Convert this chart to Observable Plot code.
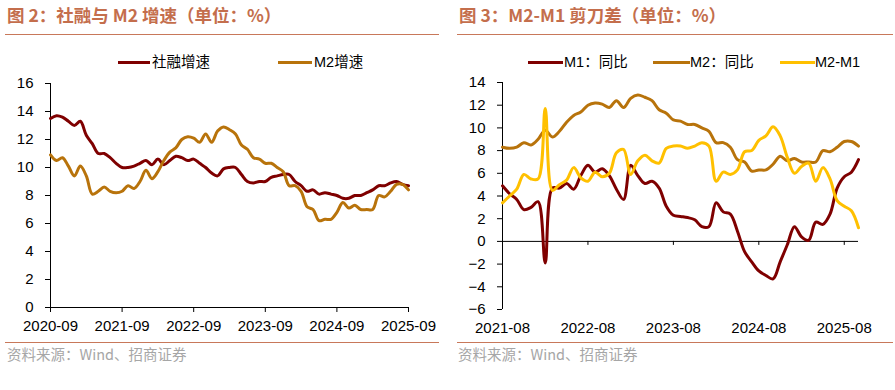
<!DOCTYPE html>
<html>
<head>
<meta charset="utf-8">
<script src="https://cdn.jsdelivr.net/npm/d3@7"></script>
<script src="https://cdn.jsdelivr.net/npm/@observablehq/plot@0.6"></script>
<style>
  body { margin: 0; background: #fff; }
  #root { position: relative; width: 895px; height: 390px; overflow: hidden; background: #fff;
          font-family: "Liberation Sans", Arial, "Noto Sans CJK SC", sans-serif; }
  .title { position: absolute; top: 2px; font-family: "Noto Sans CJK SC", sans-serif; font-weight: bold;
           font-size: 17.5px; color: #C46E4C; white-space: nowrap; }
  .hr { position: absolute; height: 0; border-top: 1.5px solid #C8785A; }
  .src { position: absolute; top: 343px; font-family: "Noto Sans CJK SC", sans-serif; font-size: 14.5px;
         color: #A6A6A6; white-space: nowrap; }
  .sw { position: absolute; top: 60.5px; height: 3px; }
  .lt { position: absolute; top: 52px; font-family: "Liberation Sans", Arial, "Noto Sans CJK SC", sans-serif;
        font-size: 14.5px; color: #000; white-space: nowrap; line-height: 20px; }
</style>
</head>
<body>
<div id="root"></div>
<script>
// ---------- Data: left chart (2020-09 .. 2025-09, monthly) ----------
const leftSeriesNames = ["社融增速", "M2增速"];
const sfGrowth = [
  13.5, 13.7, 13.6, 13.3,
  13.0, 13.3, 12.3, 11.7, 11.0, 11.0, 10.7, 10.3, 10.0, 10.0, 10.1, 10.3,
  10.5, 10.2, 10.6, 10.2, 10.5, 10.8, 10.7, 10.5, 10.6, 10.3, 10.0, 9.6,
  9.4, 9.9, 10.0, 10.0, 9.5, 9.0, 8.9, 9.0, 9.0, 9.3, 9.4, 9.5,
  9.5, 9.0, 8.7, 8.3, 8.4, 8.1, 8.2, 8.1, 8.0, 7.8, 7.8, 8.0,
  8.0, 8.2, 8.4, 8.7, 8.7, 8.9, 9.0, 8.8, 8.7
];
const m2GrowthLeft = [
  10.9, 10.5, 10.7, 10.1,
  9.4, 10.1, 9.4, 8.1, 8.3, 8.6, 8.3, 8.2, 8.3, 8.7, 8.5, 9.0,
  9.8, 9.2, 9.7, 10.5, 11.1, 11.4, 12.0, 12.2, 12.1, 11.8, 12.4, 11.8,
  12.6, 12.9, 12.7, 12.4, 11.6, 11.3, 10.7, 10.6, 10.3, 10.3, 10.0, 9.7,
  8.7, 8.7, 8.3, 7.2, 7.0, 6.2, 6.3, 6.3, 6.8, 7.5, 7.1, 7.3,
  7.0, 7.0, 7.0, 8.0, 7.9, 8.3, 8.8, 8.8, 8.4
];
const leftXTickLabels = ["2020-09", "2021-09", "2022-09", "2023-09", "2024-09", "2025-09"];
const leftYTicks = [0, 2, 4, 6, 8, 10, 12, 14, 16];

// ---------- Data: right chart (monthly, 51 points) ----------
const rightSeriesNames = ["M1：同比", "M2：同比", "M2-M1"];
const m1Yoy = [
  4.9, 4.2, 3.7, 2.8, 3.0, 3.5,
  -1.9, 4.7, 4.7, 5.1, 4.6, 5.8, 6.7, 6.1, 6.4, 5.8, 4.6, 3.7,
  6.7, 5.8, 5.1, 5.3, 4.7, 3.1, 2.3, 2.2, 2.1, 1.9, 1.3, 1.3,
  3.4, 2.6, 2.4, 0.9, -0.9, -1.8, -2.6, -3.0, -3.3, -1.8, -0.3, 1.3,
  0.4, 0.1, 1.7, 1.5, 2.4, 4.7, 5.7, 6.1, 7.2
];
const m2Yoy = [
  8.3, 8.2, 8.3, 8.7, 8.5, 9.0,
  9.8, 9.2, 9.7, 10.5, 11.1, 11.4, 12.0, 12.2, 12.1, 11.8, 12.4, 11.8,
  12.6, 12.9, 12.7, 12.4, 11.6, 11.3, 10.7, 10.6, 10.3, 10.3, 10.0, 9.7,
  8.7, 8.7, 8.3, 7.2, 7.0, 6.2, 6.3, 6.3, 6.8, 7.5, 7.1, 7.3,
  7.0, 7.0, 7.0, 8.0, 7.9, 8.3, 8.8, 8.8, 8.4
];
const m2m1Gap = [
  3.4, 4.0, 4.6, 5.9, 5.5, 5.5,
  11.7, 4.5, 5.0, 5.4, 6.5, 5.6, 5.3, 6.1, 5.7, 6.0, 7.8, 8.1,
  5.9, 7.1, 7.6, 7.1, 6.9, 8.2, 8.4, 8.4, 8.2, 8.4, 8.7, 8.4,
  5.3, 6.1, 5.9, 6.3, 7.9, 8.0, 8.9, 9.3, 10.1, 9.3, 7.4, 6.0,
  6.6, 6.9, 5.3, 6.5, 5.5, 3.6, 3.1, 2.7, 1.2
];
const rightXTickLabels = ["2021-08", "2022-08", "2023-08", "2024-08", "2025-08"];
const rightYTicks = [-6, -4, -2, 0, 2, 4, 6, 8, 10, 12, 14];

// ---------- Colours ----------
const cDark = "#7F0000";
const cBrown = "#B8730B";
const cYellow = "#FFC000";

const root = document.getElementById("root");
function el(cls, style, text) {
  const d = document.createElement("div");
  d.className = cls;
  Object.assign(d.style, style);
  if (text != null) d.textContent = text;
  root.appendChild(d);
  return d;
}

// Titles, rules, sources
el("title", {left: "7px"}, "图 2：社融与 M2 增速（单位：%）");
el("title", {left: "459px"}, "图 3：M2-M1 剪刀差（单位：%）");
el("hr", {left: "5px", width: "434px", top: "33.5px"});
el("hr", {left: "457px", width: "436px", top: "33.5px"});
el("hr", {left: "5px", width: "434px", top: "341.5px"});
el("hr", {left: "457px", width: "436px", top: "341.5px"});
el("src", {left: "7px"}, "资料来源：Wind、招商证券");
el("src", {left: "458px"}, "资料来源：Wind、招商证券");

// Legends
el("sw", {left: "118px", width: "32px", background: cDark});
el("lt", {left: "152px"}, leftSeriesNames[0]);
el("sw", {left: "278px", width: "34px", background: cBrown});
el("lt", {left: "314px"}, leftSeriesNames[1]);

el("sw", {left: "528px", width: "35px", background: cDark});
el("lt", {left: "564px"}, rightSeriesNames[0]);
el("sw", {left: "653px", width: "37px", background: cBrown});
el("lt", {left: "690px"}, rightSeriesNames[1]);
el("sw", {left: "780px", width: "35px", background: cYellow});
el("lt", {left: "815px"}, rightSeriesNames[2]);

const baseStyle = {
  fontFamily: "'Liberation Sans', Arial, sans-serif",
  fontSize: "15px",
  color: "#000",
  background: "transparent",
  overflow: "visible"
};

// ---------- Left chart ----------
const leftN = sfGrowth.length;
const leftTickPos = leftXTickLabels.map((_, k) => k * 12);
const leftChart = Plot.plot({
  width: 440, height: 270,
  marginLeft: 50, marginRight: 32, marginTop: 13, marginBottom: 33,
  style: baseStyle,
  x: {domain: [0, leftN - 1]},
  y: {domain: [0, 16]},
  marks: [
    Plot.axisY(leftYTicks, {tickSize: 5, tickPadding: 12, label: null}),
    Plot.axisX(leftTickPos, {tickSize: 5, tickPadding: 8, label: null,
      tickFormat: d => leftXTickLabels[Math.round(d / 12)]}),
    Plot.ruleX([0], {stroke: "#000"}),
    Plot.ruleY([0], {stroke: "#000"}),
    Plot.line(sfGrowth, {x: (d, i) => i, y: d => d, stroke: cDark, strokeWidth: 3, curve: "catmull-rom"}),
    Plot.line(m2GrowthLeft, {x: (d, i) => i, y: d => d, stroke: cBrown, strokeWidth: 3, curve: "catmull-rom"})
  ]
});
leftChart.style.position = "absolute";
leftChart.style.left = "0px";
leftChart.style.top = "70px";
root.appendChild(leftChart);

// ---------- Right chart ----------
const rightN = m1Yoy.length;
const rightTickPos = rightXTickLabels.map((_, k) => k * 12);
const rightChart = Plot.plot({
  width: 450, height: 270,
  marginLeft: 57, marginRight: 37, marginTop: 12, marginBottom: 31,
  style: baseStyle,
  x: {domain: [0, rightN - 1]},
  y: {domain: [-6, 14]},
  marks: [
    Plot.axisY(rightYTicks, {tickSize: 5, tickPadding: 12, label: null}),
    Plot.axisX(rightTickPos, {tickSize: 0, tickPadding: 13, label: null,
      tickFormat: d => rightXTickLabels[Math.round(d / 12)]}),
    Plot.ruleX([0], {stroke: "#000"}),
    Plot.ruleY([0], {stroke: "#000"}),
    Plot.ruleX(rightTickPos, {y1: 0, y2: 0, insetBottom: -4, stroke: "#000"}),
    Plot.line(m1Yoy, {x: (d, i) => i, y: d => d, stroke: cDark, strokeWidth: 3, curve: "catmull-rom"}),
    Plot.line(m2Yoy, {x: (d, i) => i, y: d => d, stroke: cBrown, strokeWidth: 3, curve: "catmull-rom"}),
    Plot.line(m2m1Gap, {x: (d, i) => i, y: d => d, stroke: cYellow, strokeWidth: 3, curve: "catmull-rom"})
  ]
});
rightChart.style.position = "absolute";
rightChart.style.left = "445px";
rightChart.style.top = "70px";
root.appendChild(rightChart);
</script>
</body>
</html>
